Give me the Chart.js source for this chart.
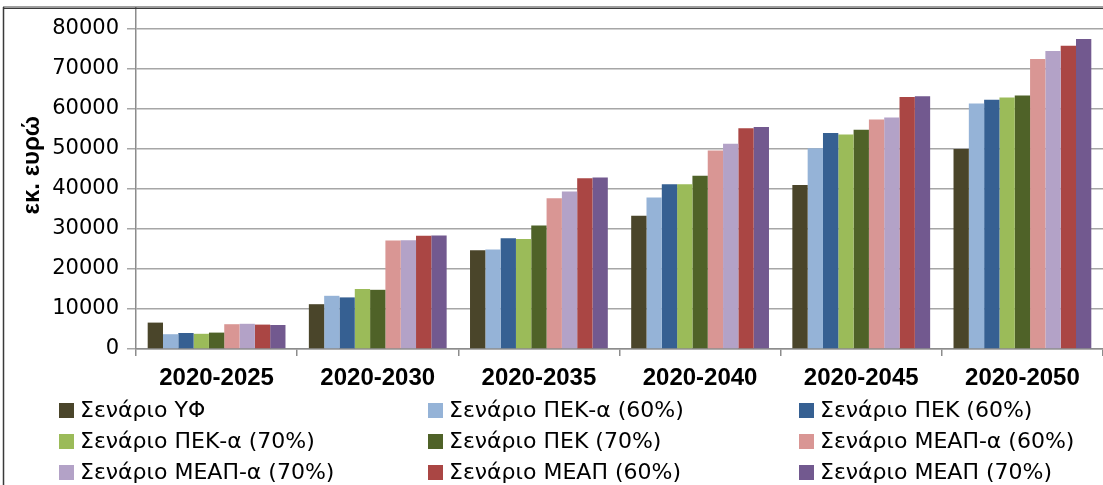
<!DOCTYPE html>
<html>
<head>
<meta charset="utf-8">
<script src="https://cdn.jsdelivr.net/npm/chart.js@4"></script>
<style>
html,body{margin:0;padding:0;background:#fff;}
#wrap{width:1103px;height:485px;position:relative;}
canvas{display:block;}
</style>
</head>
<body>
<div id="wrap"><canvas id="c" width="1103" height="485"></canvas></div>
<script>
const categories = ['2020-2025', '2020-2030', '2020-2035', '2020-2040', '2020-2045', '2020-2050'];
const seriesNames = ['Σενάριο ΥΦ', 'Σενάριο ΠΕΚ-α (60%)', 'Σενάριο ΠΕΚ (60%)',
  'Σενάριο ΠΕΚ-α (70%)', 'Σενάριο ΠΕΚ (70%)', 'Σενάριο ΜΕΑΠ-α (60%)',
  'Σενάριο ΜΕΑΠ-α (70%)', 'Σενάριο ΜΕΑΠ (60%)', 'Σενάριο ΜΕΑΠ (70%)'];
const seriesColors = ['#4A452A', '#95B3D7', '#366092', '#9BBB59', '#4F6228', '#D99694', '#B3A2C7', '#AA4644', '#72598F'];

const valYF     = [6600, 11200, 24700, 33300, 41000, 50000];
const valPEKa60 = [3700, 13300, 24900, 37900, 50200, 61400];
const valPEK60  = [4000, 12900, 27700, 41200, 54000, 62300];
const valPEKa70 = [3800, 15000, 27500, 41200, 53600, 62900];
const valPEK70  = [4100, 14800, 30900, 43300, 54800, 63400];
const valMEAPa60 = [6200, 27100, 37700, 49600, 57400, 72500];
const valMEAPa70 = [6300, 27200, 39400, 51300, 57900, 74500];
const valMEAP60  = [6100, 28300, 42700, 55200, 63000, 75800];
const valMEAP70  = [6000, 28400, 42900, 55500, 63200, 77500];

const yTickValues = [0, 10000, 20000, 30000, 40000, 50000, 60000, 70000, 80000];
const yAxisTitle = 'εκ. ευρώ';

const seriesValues = [valYF, valPEKa60, valPEK60, valPEKa70, valPEK70, valMEAPa60, valMEAPa70, valMEAP60, valMEAP70];

const datasets = seriesNames.map((name, i) => ({
  label: name,
  data: seriesValues[i],
  backgroundColor: seriesColors[i],
  borderWidth: 0,
  categoryPercentage: 0.855,
  barPercentage: 1.0
}));

const framePlugin = {
  id: 'frame',
  afterDraw(chart) {
    const ctx = chart.ctx;
    ctx.save();
    ctx.strokeStyle = '#a0a0a0';
    ctx.lineWidth = 1;
    ctx.beginPath(); ctx.moveTo(3, 6.5); ctx.lineTo(1103, 6.5); ctx.stroke();
    ctx.strokeStyle = '#3a3a3a';
    ctx.lineWidth = 1.5;
    ctx.beginPath(); ctx.moveTo(3, 8.25); ctx.lineTo(1103, 8.25); ctx.stroke();
    ctx.beginPath(); ctx.moveTo(3.5, 7); ctx.lineTo(3.5, 485); ctx.stroke();
    ctx.restore();
  }
};

const gridLegendPlugin = {
  id: 'gridLegend',
  afterDraw(chart) {
    const ctx = chart.ctx;
    const colX = [59, 428, 799];
    const rowY = [410, 441, 472];
    ctx.save();
    ctx.font = '22px "DejaVu Sans"';
    ctx.textBaseline = 'middle';
    ctx.textAlign = 'left';
    chart.data.datasets.forEach((ds, i) => {
      const x = colX[i % 3];
      const y = rowY[Math.floor(i / 3)];
      ctx.fillStyle = ds.backgroundColor;
      ctx.fillRect(x, y - 7, 15, 15);
      ctx.fillStyle = '#000';
      ctx.fillText(ds.label, x + 21, y + 1);
    });
    ctx.restore();
  }
};

new Chart(document.getElementById('c'), {
  type: 'bar',
  data: { labels: categories, datasets: datasets },
  plugins: [framePlugin, gridLegendPlugin],
  options: {
    responsive: false,
    animation: false,
    devicePixelRatio: 1,
    layout: { padding: { top: 8, right: -4, bottom: 0, left: 0 } },
    plugins: {
      legend: { display: false },
      tooltip: { enabled: false },
      title: { display: false }
    },
    scales: {
      x: {
        grid: { display: true, drawOnChartArea: false, drawTicks: true, tickLength: 7, color: '#8c8c8c', lineWidth: 1.5, offset: true },
        border: { display: true, color: '#8c8c8c', width: 1.5 },
        ticks: { font: { family: 'Liberation Sans', size: 24, weight: 'bold' }, color: '#000', padding: 8, maxRotation: 0, autoSkip: false },
        afterFit: (s) => { s.height = 136; s.paddingLeft = 0; s.paddingRight = 0; }
      },
      y: {
        min: 0,
        max: 85250,
        afterBuildTicks: (s) => { s.ticks = yTickValues.map(v => ({ value: v })); },
        grid: { color: '#a6a6a6', lineWidth: 1.5, drawTicks: true, tickLength: 9 },
        border: { display: true, color: '#8c8c8c', width: 1.5 },
        ticks: { font: { family: 'DejaVu Sans', size: 21 }, color: '#000', padding: 8, callback: (v) => String(v) },
        title: { display: true, text: '    ' + yAxisTitle, font: { family: 'Liberation Sans', size: 24, weight: 'bold' }, color: '#000', padding: { top: 18, bottom: 0 } },
        afterFit: (s) => { s.width = 136; s.paddingTop = 0; s.paddingBottom = 0; }
      }
    }
  }
});
</script>
</body>
</html>
